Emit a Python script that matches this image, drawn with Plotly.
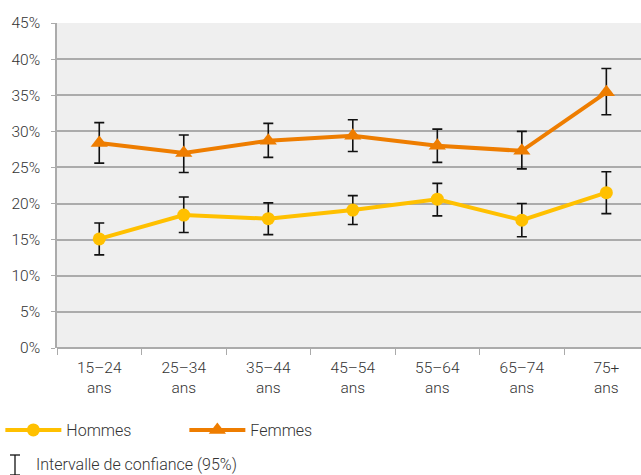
import plotly.graph_objects as go

categories = ["15–24<br>ans", "25–34<br>ans", "35–44<br>ans", "45–54<br>ans",
              "55–64<br>ans", "65–74<br>ans", "75+<br>ans"]
hommes = [15.1, 18.4, 17.9, 19.1, 20.6, 17.7, 21.5]
hommes_low = [12.9, 16.0, 15.7, 17.1, 18.3, 15.4, 18.6]
hommes_high = [17.3, 20.9, 20.1, 21.1, 22.8, 20.0, 24.4]
femmes = [28.4, 27.0, 28.7, 29.4, 28.0, 27.3, 35.4]
femmes_low = [25.6, 24.3, 26.4, 27.2, 25.7, 24.8, 32.3]
femmes_high = [31.2, 29.5, 31.1, 31.6, 30.3, 30.0, 38.7]
y_ticks = [0, 5, 10, 15, 20, 25, 30, 35, 40, 45]

FONT = "Roboto"
TXT = "#333333"

def err(v, lo, hi):
    return dict(type="data", symmetric=False,
                array=[h - x for x, h in zip(v, hi)],
                arrayminus=[x - l for x, l in zip(v, lo)],
                color="#111111", thickness=1.6, width=5)

fig = go.Figure()
fig.add_trace(go.Scatter(
    x=categories, y=hommes, name="Hommes", mode="lines+markers",
    line=dict(color="#FFC000", width=4),
    marker=dict(symbol="circle", size=13, color="#FFC000"),
    error_y=err(hommes, hommes_low, hommes_high)))
fig.add_trace(go.Scatter(
    x=categories, y=femmes, name="Femmes", mode="lines+markers",
    line=dict(color="#EE7D00", width=4),
    marker=dict(symbol="triangle-up", size=15, color="#EE7D00"),
    error_y=err(femmes, femmes_low, femmes_high)))

fig.update_layout(
    width=641, height=475,
    margin=dict(l=57, r=0, t=23, b=127),
    paper_bgcolor="white", plot_bgcolor="#EFEFEF",
    font=dict(family=FONT, size=15, color=TXT, weight=300),
    showlegend=True,
    legend=dict(orientation="h", x=-0.097, y=-0.2, xanchor="left", yanchor="top",
                itemwidth=56, entrywidth=113, font=dict(size=16, color=TXT, weight=300),
                bgcolor="rgba(0,0,0,0)", traceorder="normal", tracegroupgap=0),
)
fig.update_xaxes(
    type="category", range=[-0.5, 6.41],
    showgrid=False, showline=False, zeroline=False,
    ticks="outside", tickson="boundaries", ticklen=6, tickcolor="#AAAAAA",
    ticklabelstandoff=8,
    tickfont=dict(size=15.5, color=TXT, weight=300),
)
fig.update_yaxes(
    range=[0, 45], tickvals=y_ticks, ticktext=[f"{v}%" for v in y_ticks],
    showgrid=True, gridcolor="#ABABAB", gridwidth=1.5,
    showline=True, linecolor="#ABABAB", linewidth=1.5,
    zeroline=True, zerolinecolor="#ABABAB", zerolinewidth=1.5,
    ticks="outside", ticklen=4, tickcolor="#ABABAB",
    ticklabelstandoff=8,
    tickfont=dict(size=15.5, color=TXT, weight=300),
)

# Confidence-interval legend note (I-beam symbol + text)
px_x = lambda px: (px - 57) / 584
px_y = lambda py: (348 - py) / 325
for x0, y0, x1, y1 in [(15, 455, 15, 475), (10, 455, 20, 455), (10, 475, 20, 475)]:
    fig.add_shape(type="line", xref="paper", yref="paper",
                  x0=px_x(x0), y0=px_y(y0), x1=px_x(x1), y1=px_y(y1),
                  line=dict(color="#111111", width=1.3))
fig.add_annotation(text="Intervalle de confiance (95%)", xref="paper", yref="paper",
                   x=px_x(34), y=px_y(465), xanchor="left", yanchor="middle",
                   showarrow=False, font=dict(size=16, color=TXT, weight=300))

fig.write_html("out.html")
